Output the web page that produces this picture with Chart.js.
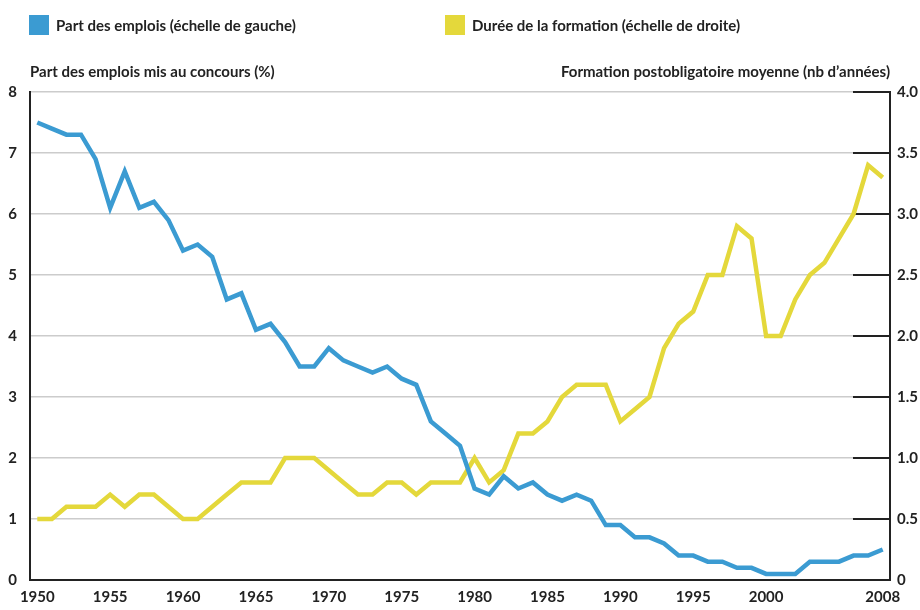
<!DOCTYPE html>
<html lang="fr">
<head>
<meta charset="utf-8">
<title>Part des emplois et durée de la formation</title>
<script src="https://cdn.jsdelivr.net/npm/chart.js@4.4.1/dist/chart.umd.min.js"></script>
<style>
  html, body { margin: 0; padding: 0; background: #fff; }
  #wrap { position: relative; width: 920px; height: 610px; font-family: Lato, "Liberation Sans", sans-serif; font-weight: bold; color: #222; }
  #wrap canvas { position: absolute; left: 0; top: 0; }
  .leg { position: absolute; top: 15px; height: 20px; line-height: 20px; font-size: 15px; white-space: nowrap; }
  .leg i { position: absolute; left: 0; top: 0; width: 20px; height: 20px; }
  .leg span { position: absolute; left: 27px; top: 0; }
  .titre { position: absolute; top: 62px; font-size: 15px; line-height: 18px; white-space: nowrap; }
</style>
</head>
<body>
<div id="wrap">
  <canvas id="graphique" width="920" height="610"></canvas>
  <div class="leg" style="left:29px"><i style="background:#3b9bd2"></i><span>Part des emplois (échelle de gauche)</span></div>
  <div class="leg" style="left:445px"><i style="background:#e4d83b"></i><span>Durée de la formation (échelle de droite)</span></div>
  <div class="titre" style="left:30px">Part des emplois mis au concours (%)</div>
  <div class="titre" style="right:30px">Formation postobligatoire moyenne (nb d’années)</div>
</div>

<script>
// annees 1950 -> 2008
var annees = [];
for (var a = 1950; a <= 2008; a++) annees.push(String(a));

var anneesAffichees = ["1950", "1955", "1960", "1965", "1970", "1975", "1980", "1985", "1990", "1995", "2000", "2008"];

// part des emplois mis au concours (%), echelle de gauche
var partEmplois = [
  7.5, 7.4, 7.3, 7.3, 6.9, 6.1, 6.7, 6.1, 6.2, 5.9,
  5.4, 5.5, 5.3, 4.6, 4.7, 4.1, 4.2, 3.9, 3.5, 3.5,
  3.8, 3.6, 3.5, 3.4, 3.5, 3.3, 3.2, 2.6, 2.4, 2.2,
  1.5, 1.4, 1.7, 1.5, 1.6, 1.4, 1.3, 1.4, 1.3, 0.9,
  0.9, 0.7, 0.7, 0.6, 0.4, 0.4, 0.3, 0.3, 0.2, 0.2,
  0.1, 0.1, 0.1, 0.3, 0.3, 0.3, 0.4, 0.4, 0.5
];

// formation postobligatoire moyenne (annees), echelle de droite
var dureeFormation = [
  0.5, 0.5, 0.6, 0.6, 0.6, 0.7, 0.6, 0.7, 0.7, 0.6,
  0.5, 0.5, 0.6, 0.7, 0.8, 0.8, 0.8, 1.0, 1.0, 1.0,
  0.9, 0.8, 0.7, 0.7, 0.8, 0.8, 0.7, 0.8, 0.8, 0.8,
  1.0, 0.8, 0.9, 1.2, 1.2, 1.3, 1.5, 1.6, 1.6, 1.6,
  1.3, 1.4, 1.5, 1.9, 2.1, 2.2, 2.5, 2.5, 2.9, 2.8,
  2.0, 2.0, 2.3, 2.5, 2.6, 2.8, 3.0, 3.4, 3.3
];

var bleu = "#3b9bd2";
var jaune = "#e4d83b";
var police = { family: "Lato, 'Liberation Sans', sans-serif", size: 15, weight: "bold" };

// petits traits noirs de l'echelle de droite, a l'interieur du graphique
var traitsDroite = {
  id: "traitsDroite",
  beforeDatasetsDraw: function (chart) {
    var ctx = chart.ctx;
    var echelle = chart.scales.y1;
    var droite = chart.chartArea.right;
    ctx.save();
    ctx.strokeStyle = "#222";
    ctx.lineWidth = 2;
    echelle.ticks.forEach(function (t) {
      var y = Math.round(echelle.getPixelForValue(t.value));
      ctx.beginPath();
      ctx.moveTo(droite - 37, y);
      ctx.lineTo(droite, y);
      ctx.stroke();
    });
    ctx.restore();
  }
};

var ctx1 = document.getElementById("graphique").getContext("2d");

var graphique = new Chart(ctx1, {
  type: "line",
  data: {
    labels: annees,
    datasets: [
      {
        label: "Durée de la formation (échelle de droite)",
        data: dureeFormation,
        yAxisID: "y1",
        borderColor: jaune,
        backgroundColor: jaune,
        borderWidth: 4.5,
        pointRadius: 0,
        tension: 0,
        borderJoinStyle: "miter",
        order: 2
      },
      {
        label: "Part des emplois (échelle de gauche)",
        data: partEmplois,
        yAxisID: "y",
        borderColor: bleu,
        backgroundColor: bleu,
        borderWidth: 4.5,
        pointRadius: 0,
        tension: 0,
        borderJoinStyle: "miter",
        order: 1
      }
    ]
  },
  options: {
    responsive: false,
    animation: false,
    layout: { padding: { top: 92, left: 0, right: 0, bottom: 0 } },
    plugins: {
      legend: { display: false },
      tooltip: { enabled: false }
    },
    scales: {
      x: {
        offset: true,
        grid: { display: false, drawTicks: false },
        border: { display: true, color: "#222", width: 2 },
        ticks: {
          autoSkip: false,
          maxRotation: 0,
          padding: 8,
          color: "#222",
          font: police,
          callback: function (val, i) {
            var lab = annees[i];
            return anneesAffichees.indexOf(lab) >= 0 ? lab : "";
          }
        },
        afterFit: function (s) { s.height = 30; }
      },
      y: {
        position: "left",
        min: 0,
        max: 8,
        grid: { color: "#cccccc", lineWidth: 1.5, drawTicks: false },
        border: { display: true, color: "#222", width: 2 },
        ticks: { stepSize: 1, padding: 13, color: "#222", font: police },
        afterFit: function (s) { s.width = 30; }
      },
      y1: {
        position: "right",
        min: 0,
        max: 4,
        grid: { display: false, drawOnChartArea: false, drawTicks: false },
        border: { display: true, color: "#222", width: 2 },
        ticks: {
          stepSize: 0.5,
          padding: 7,
          color: "#222",
          font: police,
          callback: function (v) { return v === 0 ? "0" : v.toFixed(1); }
        },
        afterFit: function (s) { s.width = 30; }
      }
    }
  },
  plugins: [traitsDroite]
});
</script>
</body>
</html>
